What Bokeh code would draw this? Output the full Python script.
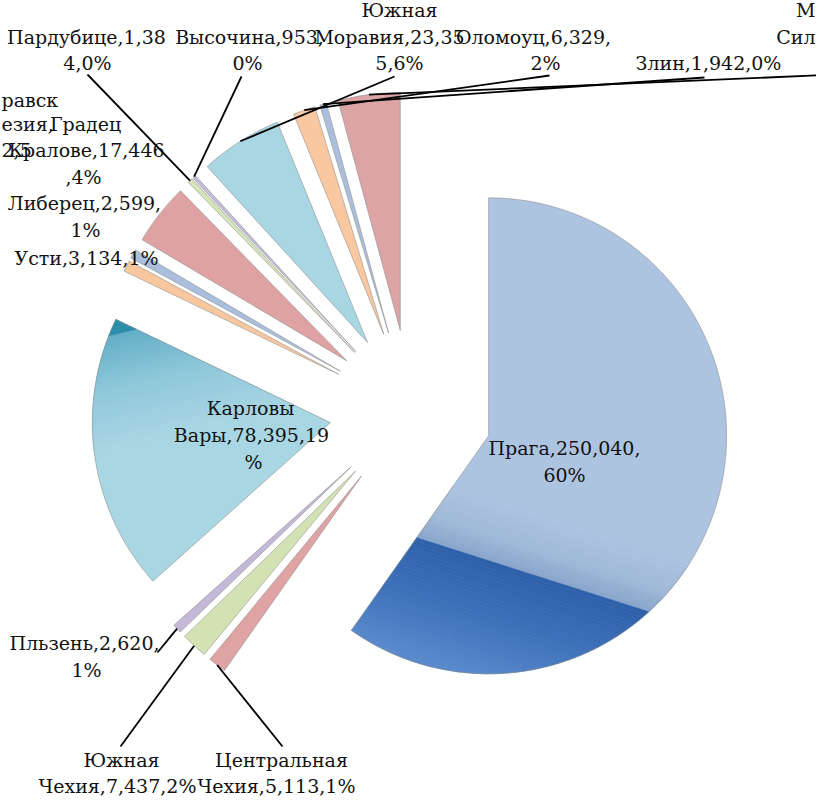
import numpy as np
from bokeh.plotting import figure
from bokeh.models import Range1d, ColumnDataSource
from bokeh.core.properties import value
from bokeh.embed import file_html
from bokeh.resources import INLINE

# ---------------- data ----------------
regions = ["Прага", "Центральная Чехия", "Южная Чехия", "Пльзень", "Карловы Вары",
           "Усти", "Либерец", "Градец Кралове", "Пардубице", "Высочина",
           "Южная Моравия", "Оломоуц", "Злин", "Моравско-Силезия"]
visitors = [250040, 5113, 7437, 2620, 78395, 3134, 2599, 17446, 1384, 953,
            23355, 6329, 1942, 17600]
slice_colors = ["#adc4e1", "#e0a3a3", "#d3e2b3", "#c4b8d8", "#a9d6e3", "#f9c79d",
                "#a9bfdd", "#dea2a3", "#d6e4b9", "#c6bcdb", "#a8d7e3", "#f9c8a0",
                "#aabfdd", "#dca4a5"]

# data label text lines (as wrapped in the original chart)
label_lines = ["Прага,250,040,", "60%",
               "Карловы", "Вары,78,395,19", "%",
               "Центральная", "Чехия,5,113,1%",
               "Южная", "Чехия,7,437,2%",
               "Пльзень,2,620,", "1%",
               "Усти,3,134,1%",
               "Либерец,2,599,", "1%",
               "Градец", "Кралове,17,446", ",4%",
               "Пардубице,1,38", "4,0%",
               "Высочина,953,", "0%",
               "Южная", "Моравия,23,35", "5,6%",
               "Оломоуц,6,329,", "2%",
               "Злин,1,942,0%"]
label_pos = [(572, 455), (572, 482),
             (258, 415), (259, 442), (261, 469),
             (289, 767), (284, 793),
             (129, 767), (125, 793),
             (92, 650), (94, 677),
             (94, 265),
             (92, 210), (93, 237),
             (93, 131), (94, 157), (91, 184),
             (94, 44), (95, 70),
             (257, 44), (255, 70),
             (407, 17), (397, 44), (407, 70),
             (541, 44), (553, 70),
             (716, 70)]
# visible fragments of labels that the chart edges cut off
left_cut_lines = ["равск", "езия,", "2,5"]
left_cut_pos = [(9, 107), (9, 131), (9, 157)]
right_cut_lines = ["М", "Сил"]
right_cut_pos = [(823, 17), (823, 44)]

# leader lines: slice index -> label end point
leader_idx = [8, 9, 10, 11, 12, 13, 3, 2, 1]
leader_end = [(95, 82), (249, 84), (402, 84), (557, 83), (712, 85), (845, 82),
              (165, 660), (128, 754), (290, 754)]

# ---------------- geometry ----------------
H = 812
CX, CY = 418.5, 418.7     # pie centre (screen coords)
R = 238.0                  # slice radius
EXPL = 81.4                # explosion offset

vals = np.array(visitors, dtype=float)
frac = vals / vals.sum()
ends = np.cumsum(frac) * 360.0
starts = ends - frac * 360.0


def unit(theta):
    t = np.radians(theta)
    return np.array([np.sin(t), -np.cos(t)])


def apex(i):
    mid = (starts[i] + ends[i]) / 2.0
    return np.array([CX, CY]) + EXPL * unit(mid)


def slice_poly(i):
    a = apex(i)
    n = max(3, int((ends[i] - starts[i]) / 0.4) + 2)
    th = np.linspace(starts[i], ends[i], n)
    return [a] + [a + R * unit(t) for t in th]


def clip(poly, nrm, c, keep_ge):
    out = []
    m = len(poly)
    for k in range(m):
        P = np.asarray(poly[k]); Q = np.asarray(poly[(k + 1) % m])
        fp = P @ nrm - c; fq = Q @ nrm - c
        if not keep_ge:
            fp, fq = -fp, -fq
        if fp >= 0:
            out.append(P)
        if (fp >= 0) != (fq >= 0):
            t = fp / (fp - fq)
            out.append(P + t * (Q - P))
    return out


def band(poly, a, nrm, lo, hi):
    c0 = a @ nrm
    pp = clip(poly, nrm, c0 + lo * R, True)
    if len(pp) < 3:
        return []
    return clip(pp, nrm, c0 + hi * R, False)


def to_data(pts):
    arr = np.array(pts)
    return list(arr[:, 0]), list(H - arr[:, 1])


def hex2rgb(h):
    return np.array([int(h[k:k + 2], 16) for k in (1, 3, 5)], dtype=float)


def interp_color(stops, s):
    ss = [q[0] for q in stops]
    rgb = np.array([hex2rgb(q[1]) for q in stops])
    c = [np.interp(s, ss, rgb[:, k]) for k in range(3)]
    return "#%02x%02x%02x" % tuple(int(round(v)) for v in c)


p = figure(width=816, height=796, output_backend="svg", toolbar_location=None,
           x_range=Range1d(8, 824), y_range=Range1d(H - 804, H - 8),
           x_axis_type=None, y_axis_type=None, min_border=0,
           background_fill_color="white", border_fill_color="white")
p.outline_line_color = None
p.grid.visible = False

# ---- flat slices ----
xs, ys, cols = [], [], []
for i in range(len(vals)):
    x, y = to_data(slice_poly(i))
    xs.append(x); ys.append(y); cols.append(slice_colors[i])
p.patches(xs="xs", ys="ys", fill_color="c", line_color=None,
          source=ColumnDataSource(dict(xs=xs, ys=ys, c=cols)))

# ---- gradient shading (Prague, Karlovy Vary) ----
grad_specs = {
    0: (np.array([-0.304, 0.9526]),
        [(0.25, 0.50, [(0.25, "#adc4e1"), (0.40, "#a0b9d8"), (0.50, "#88a4cb")]),
         (0.50, 1.10, [(0.50, "#2e61aa"), (0.75, "#4072ba"), (1.05, "#6090d2")])]),
    4: (np.array([-0.2307, -0.9730]),
        [(0.10, 0.57, [(0.10, "#a9d6e3"), (0.35, "#8fc8da"), (0.57, "#62aec6")]),
         (0.57, 0.80, [(0.57, "#2a8eaa"), (0.80, "#2a8eaa")])]),
}
gx, gy, gc = [], [], []
for i, (nrm, segs) in grad_specs.items():
    poly = slice_poly(i)
    a = apex(i)
    for s0, s1, stops in segs:
        edges = np.linspace(s0, s1, int((s1 - s0) / 0.015) + 2)
        for lo, hi in zip(edges[:-1], edges[1:]):
            hi_eff = hi if hi < s1 else (3.0 if s1 >= 0.8 else hi)
            pp = band(poly, a, nrm, lo, hi_eff)
            if len(pp) >= 3:
                x, y = to_data(pp)
                gx.append(x); gy.append(y)
                gc.append(interp_color(stops, (lo + hi) / 2.0))
p.patches(xs="xs", ys="ys", fill_color="c", line_color="c", line_width=0.6,
          source=ColumnDataSource(dict(xs=gx, ys=gy, c=gc)))

# ---- slice outlines ----
p.patches(xs=xs, ys=ys, fill_color=None, line_color="#8a8a8a", line_alpha=0.7,
          line_width=0.8)

# ---- leader lines ----
lx, ly = [], []
for i, e in zip(leader_idx, leader_end):
    mid = (starts[i] + ends[i]) / 2.0
    s = apex(i) + R * unit(mid)
    lx.append([s[0], e[0]]); ly.append([H - s[1], H - e[1]])
p.multi_line(xs=lx, ys=ly, line_color="#000000", line_width=1.8)

# ---- labels ----
font = value("DejaVu Serif")
kw = dict(text_baseline="middle", text_font=font, text_font_size="19px",
          text_color="#111111")
p.text(x=[q[0] for q in label_pos], y=[H - q[1] for q in label_pos], text=label_lines,
       text_align="center", **kw)
p.text(x=[q[0] for q in left_cut_pos], y=[H - q[1] for q in left_cut_pos],
       text=left_cut_lines, text_align="left", **kw)
p.text(x=[q[0] for q in right_cut_pos], y=[H - q[1] for q in right_cut_pos],
       text=right_cut_lines, text_align="right", **kw)

open("out.html", "w").write(file_html(p, INLINE))
